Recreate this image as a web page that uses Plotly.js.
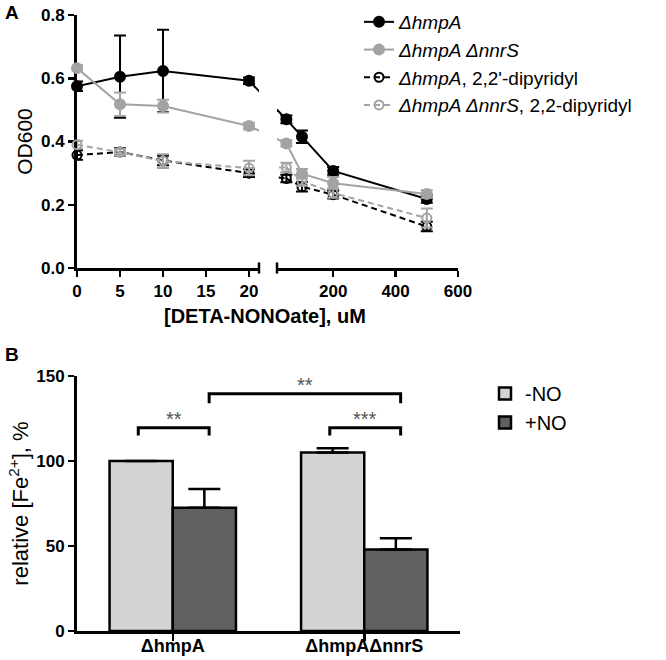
<!DOCTYPE html>
<html>
<head>
<meta charset="utf-8">
<script src="https://cdn.plot.ly/plotly-3.0.1.min.js"></script>
<style>html,body{margin:0;padding:0;background:#fff;}#chart{width:666px;height:660px;}</style>
</head>
<body>
<div id="chart"></div>
<script>
// ---------- Panel A data ----------
const concentrations = [0, 5, 10, 20, 50, 100, 200, 500];
const seriesNames = [
  '<i>ΔhmpA</i>',
  '<i>ΔhmpA ΔnnrS</i>',
  '<i>ΔhmpA</i>, 2,2\'-dipyridyl',
  '<i>ΔhmpA ΔnnrS</i>, 2,2-dipyridyl'
];
const hmpA            = [0.575, 0.605, 0.623, 0.592, 0.470, 0.415, 0.307, 0.218];
const hmpA_err        = [0.015, 0.130, 0.130, 0.010, 0.012, 0.020, 0.012, 0.012];
const hmpAnnrS        = [0.632, 0.518, 0.512, 0.449, 0.394, 0.298, 0.268, 0.234];
const hmpAnnrS_err    = [0.010, 0.037, 0.020, 0.010, 0.010, 0.015, 0.020, 0.012];
const hmpAdip         = [0.357, 0.367, 0.340, 0.300, 0.283, 0.257, 0.232, 0.131];
const hmpAdip_err     = [0.015, 0.012, 0.015, 0.012, 0.012, 0.015, 0.012, 0.015];
const hmpAnnrSdip     = [0.390, 0.366, 0.338, 0.316, 0.318, 0.275, 0.237, 0.158];
const hmpAnnrSdip_err = [0.012, 0.010, 0.022, 0.023, 0.015, 0.015, 0.015, 0.030];

// ---------- Panel B data ----------
const strains = ['ΔhmpA', 'ΔhmpAΔnnrS'];
const minusNO = [100, 105];
const minusNO_err = [0, 2.5];
const plusNO = [72.5, 48];
const plusNO_err = [11, 6.5];
// significance brackets
const bracketX0 = [-0.18, 0.19, 0.82];
const bracketX1 = [0.19, 1.19, 1.19];
const bracketY = [119.5, 139.5, 119.5];
const bracketLabels = ['**', '**', '***'];

// ---------- styling ----------
const FONT = 'Liberation Sans, Arial, sans-serif';
const GRAY = '#a3a3a3';
const styles = [
  {color: '#000', dash: 'solid', symbol: 'circle', fill: '#000'},
  {color: GRAY, dash: 'solid', symbol: 'circle', fill: GRAY},
  {color: '#000', dash: '6px,4px', symbol: 'circle-open', fill: '#000'},
  {color: GRAY, dash: '6px,4px', symbol: 'circle-open', fill: GRAY}
];
const values = [hmpA, hmpAnnrS, hmpAdip, hmpAnnrSdip];
const errors = [hmpA_err, hmpAnnrS_err, hmpAdip_err, hmpAnnrSdip_err];

// broken x axis: two segments
const LEFT = {dom: [77/666, 259/666], range: [0, 21.16]};
const RIGHT = {dom: [277/666, 458/666], range: [20, 600]};
const toFrac = (x, ax) => ax.dom[0] + (x - ax.range[0]) / (ax.range[1] - ax.range[0]) * (ax.dom[1] - ax.dom[0]);
const fromFrac = (f, ax) => ax.range[0] + (f - ax.dom[0]) / (ax.dom[1] - ax.dom[0]) * (ax.range[1] - ax.range[0]);
const isLeft = x => x <= LEFT.range[1];

const traces = [];
values.forEach((v, i) => {
  const s = styles[i];
  const xl = [], yl = [], el = [], xr = [], yr = [], er = [];
  concentrations.forEach((c, j) => {
    if (isLeft(c)) { xl.push(c); yl.push(v[j]); el.push(errors[i][j]); }
    else { xr.push(c); yr.push(v[j]); er.push(errors[i][j]); }
  });
  const common = {
    mode: 'lines+markers', legendgroup: 'g' + i, cliponaxis: false,
    line: {color: s.color, width: 2, dash: s.dash},
    marker: {symbol: s.symbol, size: s.symbol === 'circle' ? 10 : 9, color: s.fill,
             line: {color: s.color, width: 2}},
    name: seriesNames[i]
  };
  traces.push(Object.assign({}, common, {
    x: xl, y: yl, xaxis: 'x', yaxis: 'y', showlegend: true,
    error_y: {type: 'data', array: el, color: s.color, thickness: 2, width: 6}
  }));
  traces.push(Object.assign({}, common, {
    x: xr, y: yr, xaxis: 'x2', yaxis: 'y', showlegend: false,
    error_y: {type: 'data', array: er, color: s.color, thickness: 2, width: 6}
  }));
  // segment crossing the axis break (clipped by each axis range)
  const lastL = xl[xl.length - 1], firstR = xr[0];
  traces.push({x: [lastL, fromFrac(toFrac(firstR, RIGHT), LEFT)], y: [yl[yl.length - 1], yr[0]],
    xaxis: 'x', yaxis: 'y', mode: 'lines', showlegend: false, hoverinfo: 'skip',
    line: {color: s.color, width: 2, dash: s.dash}});
  traces.push({x: [fromFrac(toFrac(lastL, LEFT), RIGHT), firstR], y: [yl[yl.length - 1], yr[0]],
    xaxis: 'x2', yaxis: 'y', mode: 'lines', showlegend: false, hoverinfo: 'skip',
    line: {color: s.color, width: 2, dash: s.dash}});
});

// Panel B bars
traces.push({type: 'bar', x: strains, y: minusNO, name: '-NO', xaxis: 'x3', yaxis: 'y3', legend: 'legend2',
  marker: {color: '#d4d4d4', line: {color: '#000', width: 2.5}},
  error_y: {type: 'data', array: minusNO_err, symmetric: false, arrayminus: [0, 0], color: '#000', thickness: 2.5, width: 16}});
traces.push({type: 'bar', x: strains, y: plusNO, name: '+NO', xaxis: 'x3', yaxis: 'y3', legend: 'legend2',
  marker: {color: '#606060', line: {color: '#000', width: 2.5}},
  error_y: {type: 'data', array: plusNO_err, symmetric: false, arrayminus: [0, 0], color: '#000', thickness: 2.5, width: 16}});

const tickFont = {family: FONT, size: 17, color: '#000', weight: 'bold'};
const axisBase = {showgrid: false, zeroline: false, showline: true, linecolor: '#000', linewidth: 3,
  ticks: 'outside', ticklen: 6, tickwidth: 2.5, tickcolor: '#000', tickfont: tickFont, fixedrange: true};

const shapes = [];
// axis break caps
shapes.push({type: 'line', xref: 'x domain', yref: 'y domain', x0: 1, x1: 1, y0: -0.022, y1: 0.022, line: {color: '#000', width: 2.5}});
shapes.push({type: 'line', xref: 'x2 domain', yref: 'y domain', x0: 0, x1: 0, y0: -0.022, y1: 0.022, line: {color: '#000', width: 2.5}});

const annotations = [];
bracketLabels.forEach((lab, i) => {
  const drop = i === 1 ? 5.5 : 4.5;
  shapes.push({type: 'path', xref: 'x3', yref: 'y3',
    path: `M ${bracketX0[i]},${bracketY[i] - drop} L ${bracketX0[i]},${bracketY[i]} L ${bracketX1[i]},${bracketY[i]} L ${bracketX1[i]},${bracketY[i] - drop}`,
    line: {color: '#000', width: 3}});
  annotations.push({xref: 'x3', yref: 'y3', x: (bracketX0[i] + bracketX1[i]) / 2, y: bracketY[i] - 2.5,
    text: lab, showarrow: false, yanchor: 'bottom', font: {family: FONT, size: 20, color: '#555'}});
});
annotations.push({xref: 'paper', yref: 'paper', x: 3/666, y: 1, xanchor: 'left', yanchor: 'top',
  text: '<b>A</b>', showarrow: false, font: {family: FONT, size: 19, color: '#000'}});
annotations.push({xref: 'paper', yref: 'paper', x: 3/666, y: 1 - 342/660, xanchor: 'left', yanchor: 'top',
  text: '<b>B</b>', showarrow: false, font: {family: FONT, size: 19, color: '#000'}});
annotations.push({xref: 'paper', yref: 'paper', x: 265/666, y: 1 - 316/660, xanchor: 'center', yanchor: 'middle',
  text: '<b>[DETA-NONOate], uM</b>', showarrow: false, font: {family: FONT, size: 20, color: '#000'}});

const layout = {
  width: 666, height: 660, margin: {l: 0, r: 0, t: 0, b: 0},
  paper_bgcolor: '#fff', plot_bgcolor: 'rgba(0,0,0,0)',
  font: {family: FONT, color: '#000'},
  barmode: 'group', bargap: 0.34, bargroupgap: 0,
  xaxis: Object.assign({}, axisBase, {domain: LEFT.dom, range: LEFT.range, anchor: 'y',
    tickvals: [0, 5, 10, 15, 20], layer: 'below traces'}),
  xaxis2: Object.assign({}, axisBase, {domain: RIGHT.dom, range: RIGHT.range, anchor: 'y',
    tickvals: [200, 400, 600], layer: 'below traces'}),
  yaxis: Object.assign({}, axisBase, {domain: [1 - 268/660, 1 - 15/660], range: [0, 0.8], anchor: 'x',
    tickvals: [0, 0.2, 0.4, 0.6, 0.8], tickformat: '.1f', layer: 'below traces',
    title: {text: 'OD600', font: {family: FONT, size: 21, color: '#000'}, standoff: 3}}),
  xaxis3: Object.assign({}, axisBase, {domain: [77/666, 460/666], range: [-0.5, 1.5], anchor: 'y3',
    type: 'category', ticklen: 7, ticklabelstandoff: -11,
    tickfont: {family: FONT, size: 18, color: '#000', weight: 'bold'}}),
  yaxis3: Object.assign({}, axisBase, {domain: [1 - 631/660, 1 - 376/660], range: [0, 150], anchor: 'x3',
    tickvals: [0, 50, 100, 150],
    title: {text: 'relative [Fe<sup>2+</sup>], %', font: {family: FONT, size: 22, color: '#000'}, standoff: 2}}),
  legend: {x: 359/666, y: 1 - 3/660, xanchor: 'left', yanchor: 'top', bgcolor: 'rgba(0,0,0,0)',
    font: {family: FONT, size: 19, color: '#000'}, itemwidth: 30, tracegroupgap: 0},
  legend2: {x: 485/666, y: 1 - 374/660, xanchor: 'left', yanchor: 'top', bgcolor: 'rgba(0,0,0,0)',
    font: {family: FONT, size: 20, color: '#000'}, itemwidth: 30},
  shapes: shapes,
  annotations: annotations,
  showlegend: true
};

Plotly.newPlot('chart', traces, layout, {displayModeBar: false, staticPlot: true});
</script>
</body>
</html>
